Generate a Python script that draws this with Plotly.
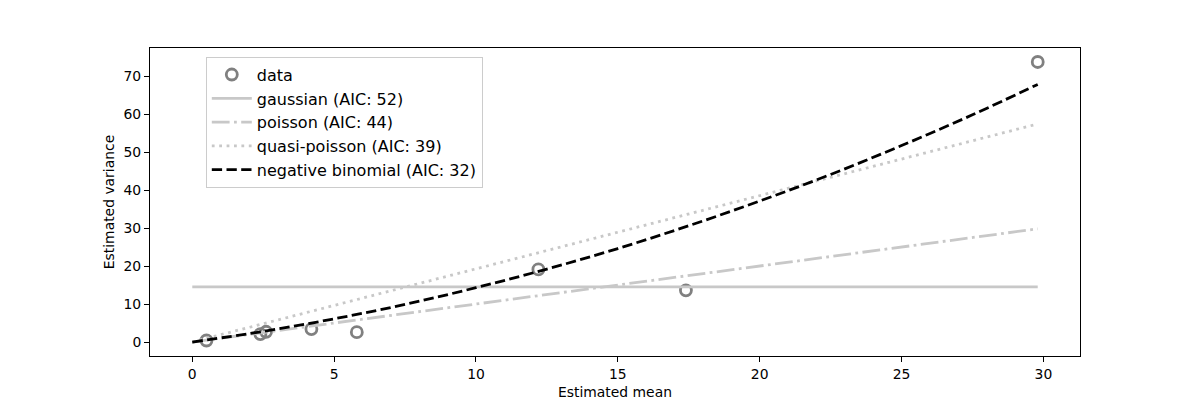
import plotly.graph_objects as go

# observed data
est_mean = [0.5, 2.4, 2.6, 4.2, 5.8, 12.2, 17.4, 29.8]
est_var = [0.4, 2.1, 2.7, 3.4, 2.6, 19.1, 13.6, 73.7]

# fitted curves
curve_x = [0, 2.5, 5, 7.5, 10, 12.5, 15, 17.5, 20, 22.5, 25, 27.5, 29.8]
gaussian_y = [14.5] * 13
poisson_y = [0, 2.5, 5, 7.5, 10, 12.5, 15, 17.5, 20, 22.5, 25, 27.5, 29.8]
quasi_y = [0, 4.8, 9.6, 14.4, 19.3, 24.1, 28.9, 33.7, 38.5, 43.3, 48.1, 52.9, 57.4]
negbin_y = [0, 2.8, 6.1, 9.9, 14.3, 19.2, 24.6, 30.6, 37.1, 44.1, 51.7, 59.8, 67.8]

labels = ["data", "gaussian (AIC: 52)", "poisson (AIC: 44)",
          "quasi-poisson (AIC: 39)", "negative binomial (AIC: 32)"]

fig = go.Figure()
fig.add_trace(go.Scatter(x=est_mean, y=est_var, mode="markers", name=labels[0],
                         marker=dict(symbol="circle-open", size=11, color="#808080",
                                     line=dict(width=2.8, color="#808080"))))
fig.add_trace(go.Scatter(x=curve_x, y=gaussian_y, mode="lines", name=labels[1],
                         line=dict(color="#c8c8c8", width=2.8)))
fig.add_trace(go.Scatter(x=curve_x, y=poisson_y, mode="lines", name=labels[2],
                         line=dict(color="#c8c8c8", width=2.8, dash="17.8px,4.4px,2.8px,4.4px")))
fig.add_trace(go.Scatter(x=curve_x, y=quasi_y, mode="lines", name=labels[3],
                         line=dict(color="#c8c8c8", width=2.8, dash="2.8px,4.6px")))
fig.add_trace(go.Scatter(x=curve_x, y=negbin_y, mode="lines", name=labels[4],
                         line=dict(color="black", width=2.8, dash="10.3px,4.4px", shape="spline")))

axis_common = dict(showline=True, linecolor="black", linewidth=1, mirror=True,
                   ticks="outside", ticklen=5, tickcolor="black", showgrid=False,
                   zeroline=False, automargin=False, tickfont=dict(size=13.9, color="black"))
fig.update_xaxes(range=[-1.49, 31.29], tickvals=[0, 5, 10, 15, 20, 25, 30],
                 title=dict(text="Estimated mean", font=dict(size=13.9, color="black"), standoff=6),
                 **axis_common)
fig.update_yaxes(range=[-3.68, 77.38], tickvals=[0, 10, 20, 30, 40, 50, 60, 70],
                 title=dict(text="Estimated variance", font=dict(size=13.9, color="black"), standoff=5),
                 **axis_common)
fig.update_layout(
    width=1200, height=400,
    margin=dict(l=150, r=120, t=48, b=44),
    plot_bgcolor="white", paper_bgcolor="white",
    font=dict(family="DejaVu Sans", color="black"),
    legend=dict(x=0.06, y=0.972, xanchor="left", yanchor="top",
                bgcolor="rgba(255,255,255,0.8)", bordercolor="#cccccc", borderwidth=1,
                font=dict(size=16), tracegroupgap=0, itemwidth=40),
)
fig.write_html("out.html")
